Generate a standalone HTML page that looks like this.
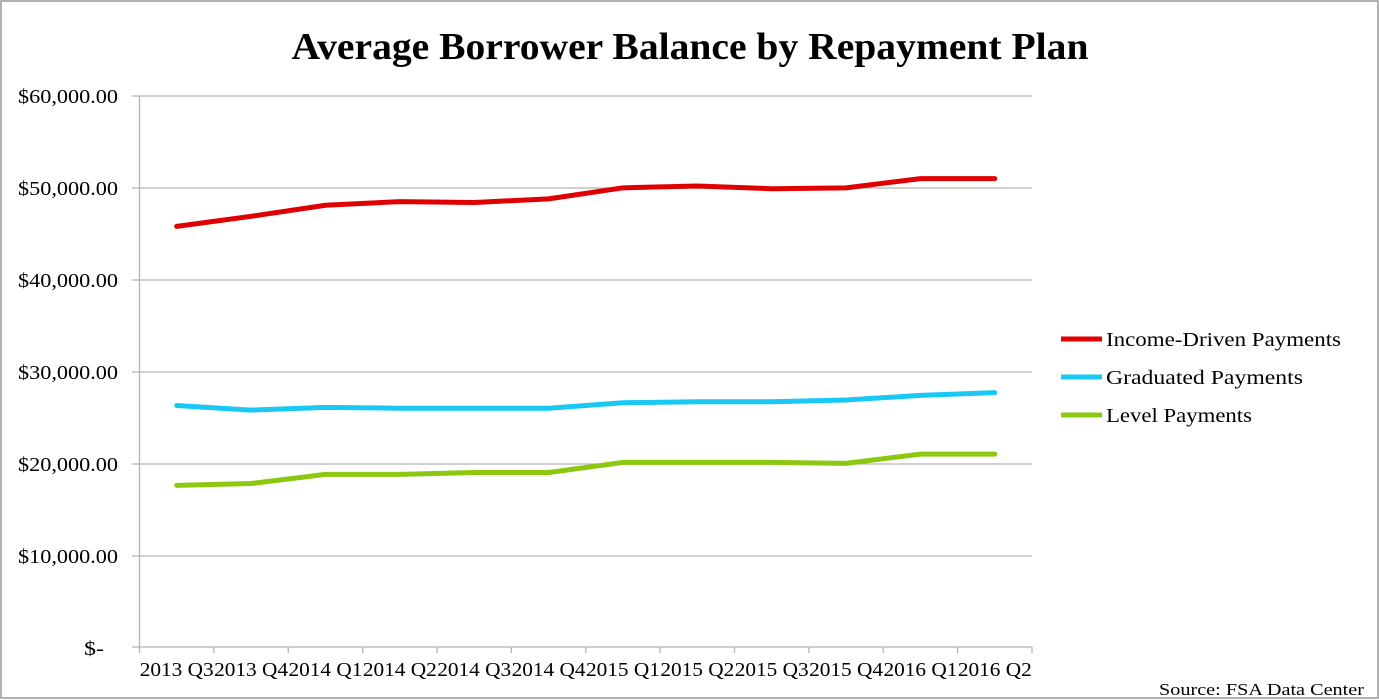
<!DOCTYPE html>
<html><head><meta charset="utf-8"><style>
body{margin:0;background:#fff}
svg{display:block}
text{font-family:"Liberation Serif",serif;fill:#000}
</style></head><body>
<svg width="1379" height="700" xmlns="http://www.w3.org/2000/svg">
<rect x="1" y="1" width="1377" height="697" fill="#fff" stroke="#999" stroke-width="1.5"/>
<text x="690" y="59" font-size="38" font-weight="bold" text-anchor="middle" textLength="797" lengthAdjust="spacingAndGlyphs">Average Borrower Balance by Repayment Plan</text>
<g stroke="#b3b3b3" stroke-width="1.3">
<line x1="132" y1="96" x2="1032" y2="96"/>
<line x1="132" y1="188" x2="1032" y2="188"/>
<line x1="132" y1="280" x2="1032" y2="280"/>
<line x1="132" y1="372" x2="1032" y2="372"/>
<line x1="132" y1="464" x2="1032" y2="464"/>
<line x1="132" y1="556" x2="1032" y2="556"/>
<line x1="132" y1="647" x2="1032" y2="647"/>
<line x1="139.5" y1="96" x2="139.5" y2="647"/>
<g id="ticks"></g>
</g>
<g font-size="20" text-anchor="end">
<text x="118" y="103" textLength="100" lengthAdjust="spacingAndGlyphs">$60,000.00</text>
<text x="118" y="195" textLength="100" lengthAdjust="spacingAndGlyphs">$50,000.00</text>
<text x="118" y="287" textLength="100" lengthAdjust="spacingAndGlyphs">$40,000.00</text>
<text x="118" y="379" textLength="100" lengthAdjust="spacingAndGlyphs">$30,000.00</text>
<text x="118" y="471" textLength="100" lengthAdjust="spacingAndGlyphs">$20,000.00</text>
<text x="118" y="563" textLength="100" lengthAdjust="spacingAndGlyphs">$10,000.00</text>
<text x="104" y="655" textLength="20" lengthAdjust="spacingAndGlyphs">$-</text>
</g>
<g id="dyn"></g>
<g font-size="20">
<line x1="1061" y1="339" x2="1102" y2="339" stroke="#e00000" stroke-width="5"/>
<text x="1106" y="346" textLength="235" lengthAdjust="spacingAndGlyphs">Income-Driven Payments</text>
<line x1="1061" y1="377" x2="1102" y2="377" stroke="#19c8f5" stroke-width="5"/>
<text x="1106" y="384" textLength="197" lengthAdjust="spacingAndGlyphs">Graduated Payments</text>
<line x1="1061" y1="415" x2="1102" y2="415" stroke="#8dc811" stroke-width="5"/>
<text x="1106" y="422" textLength="146" lengthAdjust="spacingAndGlyphs">Level Payments</text>
</g>
<text x="1364" y="695" font-size="17" text-anchor="end" textLength="205" lengthAdjust="spacingAndGlyphs">Source: FSA Data Center</text>
</svg>
<script>
var ns="http://www.w3.org/2000/svg";
var x0=139.5,w=(1032-139.5)/12;
var labels=["2013 Q3","2013 Q4","2014 Q1","2014 Q2","2014 Q3","2014 Q4","2015 Q1","2015 Q2","2015 Q3","2015 Q4","2016 Q1","2016 Q2"];
var t=document.getElementById("ticks"),d=document.getElementById("dyn");
for(var i=0;i<=12;i++){var l=document.createElementNS(ns,"line");var x=x0+i*w;l.setAttribute("x1",x);l.setAttribute("x2",x);l.setAttribute("y1",647);l.setAttribute("y2",653);t.appendChild(l);}
for(var i=0;i<12;i++){var tx=document.createElementNS(ns,"text");tx.setAttribute("x",x0+(i+.5)*w);tx.setAttribute("y",676);tx.setAttribute("font-size","20");tx.setAttribute("text-anchor","middle");tx.setAttribute("textLength","74");tx.setAttribute("lengthAdjust","spacingAndGlyphs");tx.textContent=labels[i];d.appendChild(tx);}
var series=[["#e00000",[45800,46900,48100,48500,48400,48800,50000,50200,49900,50000,51000,51000]],
["#19c8f5",[26300,25800,26100,26000,26000,26000,26600,26700,26700,26900,27400,27700]],
["#8dc811",[17600,17800,18800,18800,19000,19000,20100,20100,20100,20000,21000,21000]]];
series.forEach(function(s){var p=s[1].map(function(v,i){return (x0+(i+.5)*w)+","+(647-v*551/60000)}).join(" ");
var pl=document.createElementNS(ns,"polyline");pl.setAttribute("points",p);pl.setAttribute("fill","none");pl.setAttribute("stroke",s[0]);pl.setAttribute("stroke-width","5");pl.setAttribute("stroke-linejoin","round");pl.setAttribute("stroke-linecap","round");d.appendChild(pl);});
</script>
</body></html>
